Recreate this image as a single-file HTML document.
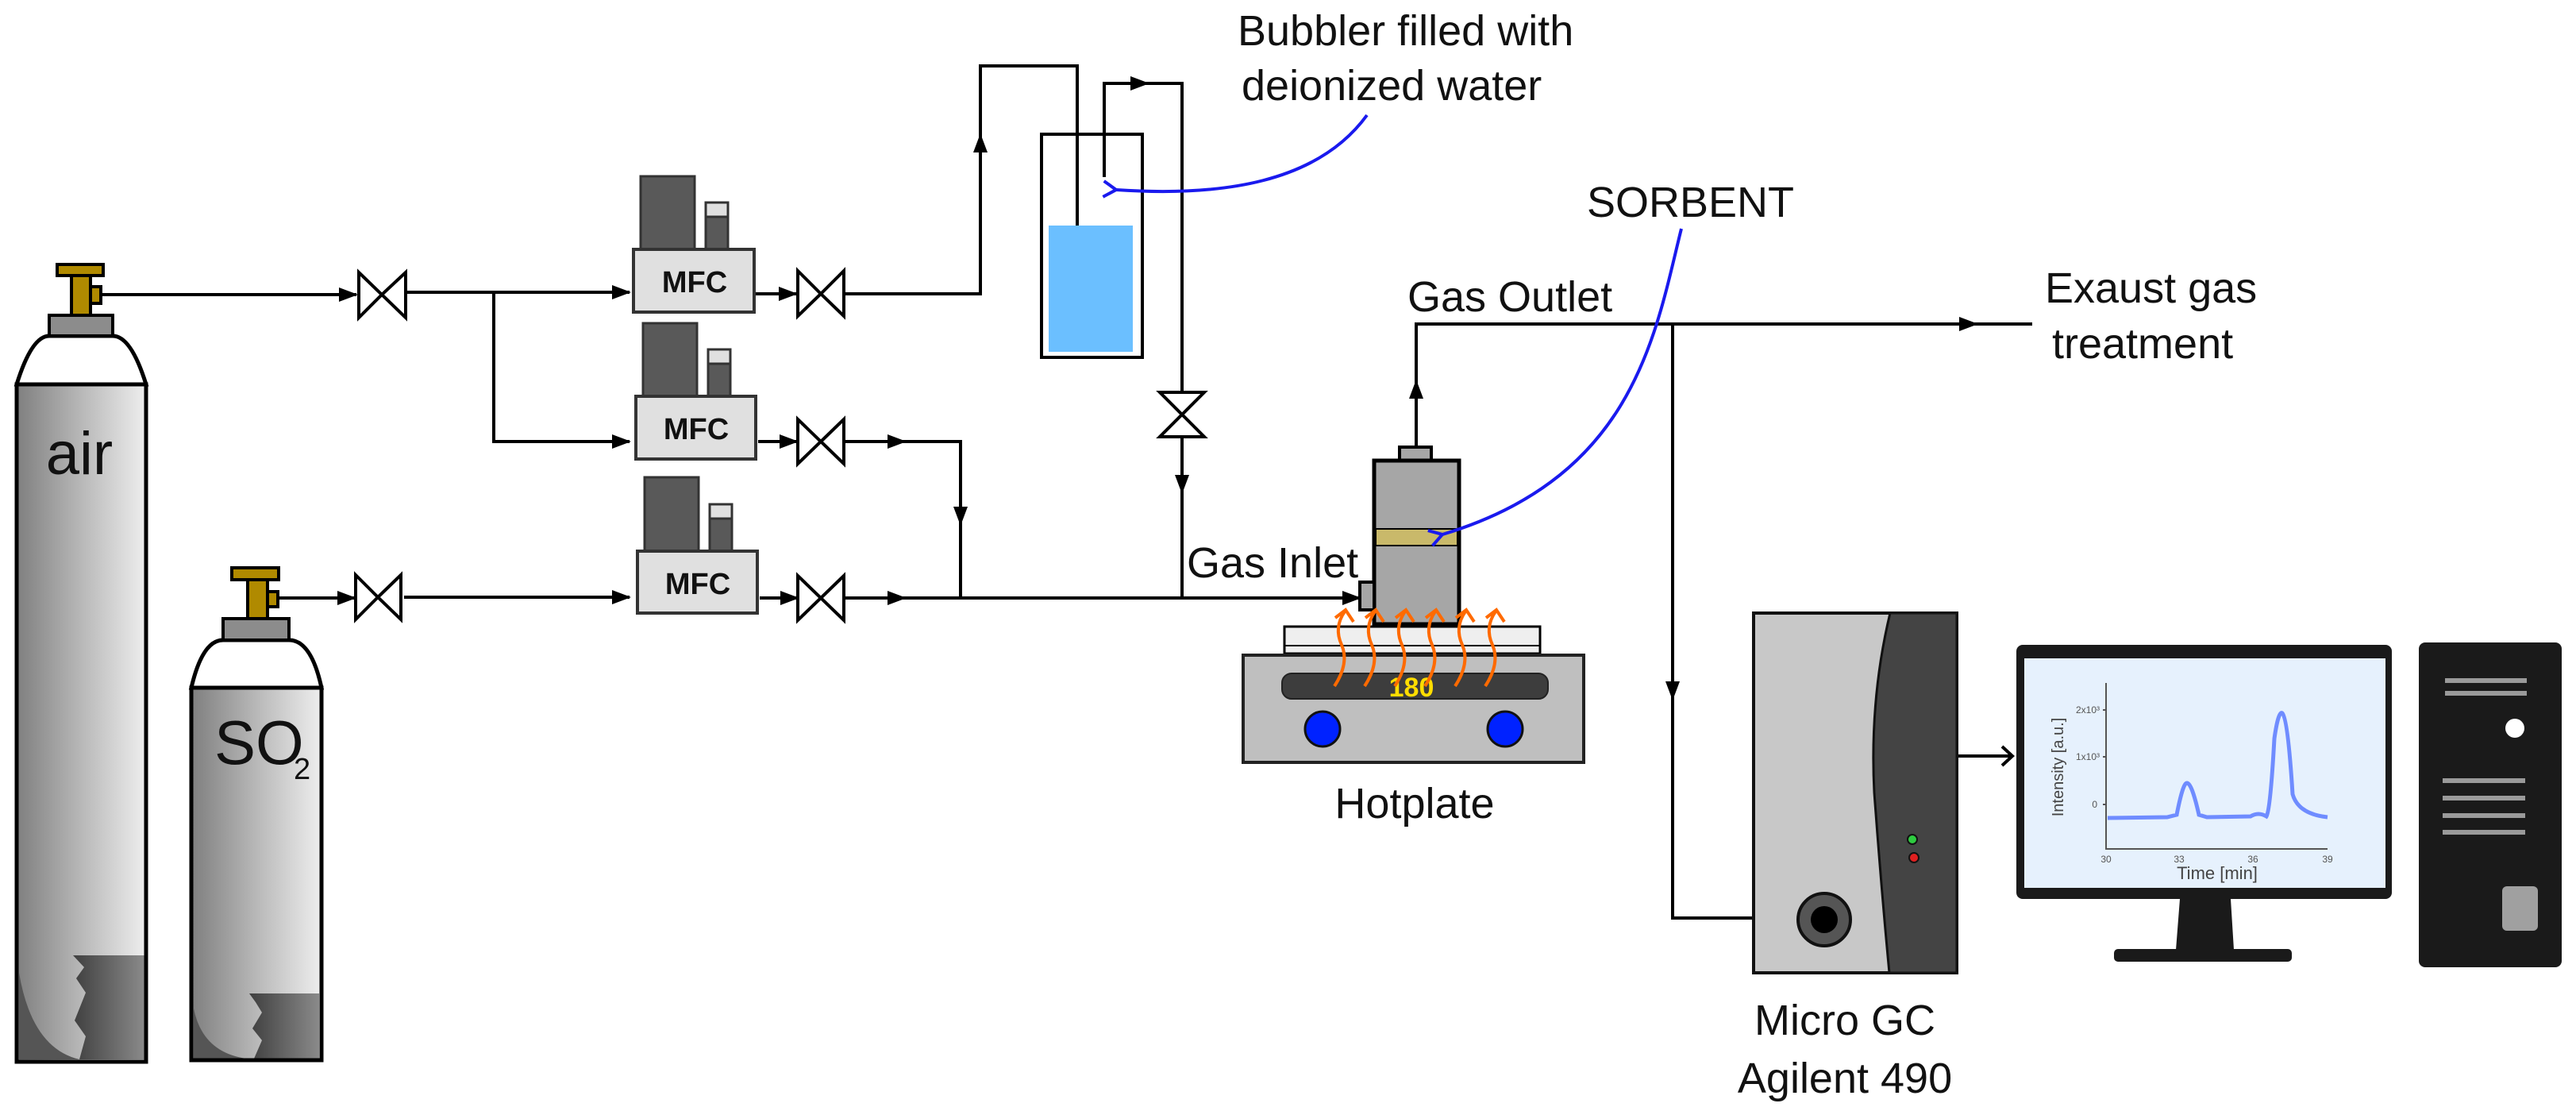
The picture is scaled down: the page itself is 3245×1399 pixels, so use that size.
<!DOCTYPE html>
<html><head><meta charset="utf-8"><style>
html,body{margin:0;padding:0;background:#fff;}
svg{display:block;}
text{font-family:"Liberation Sans",sans-serif;}
</style></head><body>
<svg width="3245" height="1399" viewBox="0 0 3245 1399" xmlns="http://www.w3.org/2000/svg">
<defs>
<linearGradient id="cyl" x1="0" x2="1" y1="0" y2="0">
<stop offset="0" stop-color="#7f7f7f"/><stop offset="0.5" stop-color="#b8b8b8"/><stop offset="1" stop-color="#eeeeee"/></linearGradient>
<linearGradient id="cylb" x1="0" x2="1" y1="0" y2="0">
<stop offset="0" stop-color="#3f3f3f"/><stop offset="1" stop-color="#8a8a8a"/></linearGradient>
<marker id="ar" markerWidth="24" markerHeight="20" refX="22" refY="10" orient="auto" markerUnits="userSpaceOnUse">
<path d="M0,1 L24,10 L0,19 Z" fill="#000"/></marker>
<marker id="bl" markerWidth="24" markerHeight="24" refX="4" refY="12" orient="auto-start-reverse" markerUnits="userSpaceOnUse">
<path d="M20,2 L4,12 L20,22" fill="none" stroke="#1a1aee" stroke-width="4"/></marker>
</defs>

<!-- AIR cylinder -->
<g stroke="#000" stroke-width="5">
<path d="M21,484 Q40,423 62,423 L142,423 Q165,423 184,484 Z" fill="#fff"/>
<rect x="21" y="484" width="163" height="853" fill="url(#cyl)"/>
</g>
<path d="M24,1225 Q40,1320 100,1334 L24,1334 Z" fill="#555"/>
<path d="M92,1203 L182,1203 L182,1334 L100,1334 L108,1305 L94,1285 L108,1250 L96,1232 L106,1218 Z" fill="url(#cylb)"/>
<rect x="21" y="484" width="163" height="853" fill="none" stroke="#000" stroke-width="5"/>
<rect x="62" y="397" width="80" height="26" fill="#8c8c8c" stroke="#000" stroke-width="4"/>
<rect x="90" y="347" width="24" height="50" fill="#b08a00" stroke="#000" stroke-width="4"/>
<rect x="72" y="333" width="58" height="14" fill="#b08a00" stroke="#000" stroke-width="4"/>
<rect x="114" y="361" width="13" height="21" fill="#b08a00" stroke="#000" stroke-width="4"/>
<text x="100" y="597" font-size="76" text-anchor="middle" fill="#111">air</text>

<!-- SO2 cylinder -->
<g stroke="#000" stroke-width="5">
<path d="M241,866 Q255,806 281,806 L364,806 Q392,806 405,866 Z" fill="#fff"/>
<rect x="241" y="866" width="164" height="469" fill="url(#cyl)"/>
</g>
<path d="M244,1270 Q255,1325 310,1333 L244,1333 Z" fill="#555"/>
<path d="M314,1251 L402,1251 L402,1333 L320,1333 L330,1310 L318,1295 L330,1275 L322,1262 Z" fill="url(#cylb)"/>
<rect x="241" y="866" width="164" height="469" fill="none" stroke="#000" stroke-width="5"/>
<rect x="281" y="779" width="83" height="27" fill="#8c8c8c" stroke="#000" stroke-width="4"/>
<rect x="312" y="730" width="25" height="49" fill="#b08a00" stroke="#000" stroke-width="4"/>
<rect x="292" y="715" width="59" height="15" fill="#b08a00" stroke="#000" stroke-width="4"/>
<rect x="337" y="745" width="13" height="19" fill="#b08a00" stroke="#000" stroke-width="4"/>
<text x="270" y="962" font-size="78" fill="#111">SO</text>
<text x="370" y="981" font-size="38" fill="#111">2</text>

<!-- lines -->
<g stroke="#000" stroke-width="4" fill="none">
<line x1="128" y1="371" x2="449" y2="371" marker-end="url(#ar)"/>
<line x1="511" y1="368" x2="793" y2="368" marker-end="url(#ar)"/>
<polyline points="622,368 622,556 793,556" marker-end="url(#ar)"/>
<line x1="351" y1="753" x2="447" y2="753" marker-end="url(#ar)"/>
<line x1="509" y1="752" x2="793" y2="752" marker-end="url(#ar)"/>
<line x1="952" y1="370" x2="1003" y2="370" marker-end="url(#ar)"/>
<line x1="955" y1="556" x2="1004" y2="556" marker-end="url(#ar)"/>
<line x1="957" y1="753" x2="1005" y2="753" marker-end="url(#ar)"/>
<polyline points="1063,370 1235,370 1235,83 1357,83 1357,393"/>
<line x1="1235" y1="200" x2="1235" y2="170" marker-end="url(#ar)"/>
<polyline points="1391,223 1391,105 1489,105 1489,753"/>
<line x1="1420" y1="105" x2="1446" y2="105" marker-end="url(#ar)"/>
<line x1="1489" y1="590" x2="1489" y2="620" marker-end="url(#ar)"/>
<polyline points="1065,556 1210,556 1210,753"/>
<line x1="1100" y1="556" x2="1140" y2="556" marker-end="url(#ar)"/>
<line x1="1210" y1="630" x2="1210" y2="660" marker-end="url(#ar)"/>
<line x1="1063" y1="753" x2="1713" y2="753" marker-end="url(#ar)"/>
<line x1="1100" y1="753" x2="1140" y2="753" marker-end="url(#ar)"/>
<polyline points="1784,563 1784,408 2560,408"/>
<line x1="1784" y1="520" x2="1784" y2="480" marker-end="url(#ar)"/>
<line x1="2400" y1="408" x2="2490" y2="408" marker-end="url(#ar)"/>
<polyline points="2107,408 2107,1156 2265,1156"/>
<line x1="2107" y1="840" x2="2107" y2="880" marker-end="url(#ar)"/>
<line x1="2465" y1="952" x2="2534" y2="952"/>
<polyline points="2522,940 2535,952 2522,964" stroke-width="4"/>
</g>

<!-- valves -->
<g fill="#fff" stroke="#000" stroke-width="4">
<path d="M452,343 L481,371 L452,400 Z M511,343 L481,371 L511,400 Z"/>
<path d="M1005,341 L1034,370 L1005,398 Z M1063,341 L1034,370 L1063,398 Z"/>
<path d="M1005,528 L1034,556 L1005,584 Z M1063,528 L1034,556 L1063,584 Z"/>
<path d="M1005,725 L1034,753 L1005,781 Z M1063,725 L1034,753 L1063,781 Z"/>
<path d="M448,724 L476,752 L448,780 Z M505,724 L476,752 L505,780 Z"/>
<path d="M1461,494 L1517,494 L1489,522 Z M1461,550 L1517,550 L1489,522 Z"/>
</g>

<!-- MFCs -->
<g stroke="#333" stroke-width="3">
<rect x="807" y="222" width="68" height="92" fill="#595959"/>
<rect x="889" y="255" width="28" height="59" fill="#595959"/>
<rect x="889" y="255" width="28" height="18" fill="#e0e0e0"/>
<rect x="798" y="314" width="152" height="79" fill="#e0e0e0" stroke-width="4"/>
<rect x="810" y="407" width="68" height="92" fill="#595959"/>
<rect x="892" y="440" width="28" height="59" fill="#595959"/>
<rect x="892" y="440" width="28" height="18" fill="#e0e0e0"/>
<rect x="801" y="499" width="151" height="79" fill="#e0e0e0" stroke-width="4"/>
<rect x="812" y="601" width="68" height="93" fill="#595959"/>
<rect x="894" y="635" width="28" height="59" fill="#595959"/>
<rect x="894" y="635" width="28" height="18" fill="#e0e0e0"/>
<rect x="803" y="694" width="151" height="78" fill="#e0e0e0" stroke-width="4"/>
</g>
<g font-size="38" font-weight="bold" text-anchor="middle" fill="#111">
<text x="875" y="368">MFC</text><text x="877" y="553">MFC</text><text x="879" y="748">MFC</text>
</g>

<!-- bubbler -->
<rect x="1321" y="284" width="106" height="159" fill="#6bbfff"/>
<rect x="1312" y="169" width="127" height="281" fill="none" stroke="#000" stroke-width="4"/>

<!-- reactor -->
<rect x="1763" y="563" width="40" height="17" fill="#a6a6a6" stroke="#000" stroke-width="4"/>
<rect x="1731" y="580" width="107" height="206" fill="#a6a6a6" stroke="#000" stroke-width="5"/>
<rect x="1733" y="666" width="103" height="21" fill="#c9b96a" stroke="#000" stroke-width="2"/>
<rect x="1713" y="733" width="18" height="35" fill="#a6a6a6" stroke="#000" stroke-width="4"/>

<!-- hotplate -->
<rect x="1618" y="789" width="322" height="34" fill="#efefef" stroke="#000" stroke-width="3"/>
<line x1="1618" y1="813" x2="1940" y2="813" stroke="#000" stroke-width="2"/>
<rect x="1566" y="825" width="429" height="135" fill="#bfbfbf" stroke="#222" stroke-width="4"/>
<rect x="1615" y="848" width="335" height="32" rx="12" fill="#3d3d3d" stroke="#222" stroke-width="2"/>
<text x="1778" y="877" font-size="34" font-weight="bold" text-anchor="middle" fill="#ffdd00" font-family="Liberation Serif,serif">180</text>
<circle cx="1666" cy="918" r="22" fill="#0022ff" stroke="#111" stroke-width="3"/>
<circle cx="1896" cy="918" r="22" fill="#0022ff" stroke="#111" stroke-width="3"/>
<g stroke="#ff6a00" stroke-width="4" fill="none">
<path d="M1681,864 Q1700,835 1690,812 Q1680,790 1694,770 M1682,778 L1695,768 L1705,783"/>
<path d="M1719,864 Q1738,835 1728,812 Q1718,790 1732,770 M1720,778 L1733,768 L1743,783"/>
<path d="M1757,864 Q1776,835 1766,812 Q1756,790 1770,770 M1758,778 L1771,768 L1781,783"/>
<path d="M1795,864 Q1814,835 1804,812 Q1794,790 1808,770 M1796,778 L1809,768 L1819,783"/>
<path d="M1833,864 Q1852,835 1842,812 Q1832,790 1846,770 M1834,778 L1847,768 L1857,783"/>
<path d="M1871,864 Q1890,835 1880,812 Q1870,790 1884,770 M1872,778 L1885,768 L1895,783"/>
</g>

<!-- blue annotation curves -->
<path d="M1722,145 C1660,230 1540,248 1406,239" fill="none" stroke="#1a1aee" stroke-width="4" marker-end="url(#bl)"/>
<path d="M2118,288 C2085,420 2060,600 1817,673" fill="none" stroke="#1a1aee" stroke-width="4" marker-end="url(#bl)"/>

<!-- Micro GC -->
<rect x="2209" y="772" width="256" height="453" fill="#c8c8c8" stroke="#111" stroke-width="4"/>
<path d="M2381,772 Q2355,880 2361,998 Q2370,1120 2380,1225 L2465,1225 L2465,772 Z" fill="#444" stroke="#111" stroke-width="3"/>
<circle cx="2298" cy="1158" r="33" fill="#555" stroke="#111" stroke-width="4"/>
<circle cx="2298" cy="1158" r="17" fill="#000"/>
<circle cx="2409" cy="1057" r="6" fill="#2ecc40" stroke="#111" stroke-width="2"/>
<circle cx="2411" cy="1080" r="6" fill="#e02020" stroke="#111" stroke-width="2"/>

<!-- Monitor -->
<rect x="2540" y="812" width="473" height="320" rx="8" fill="#1a1a1a"/>
<rect x="2550" y="829" width="455" height="289" fill="#e6f1fd"/>
<path d="M2746,1132 L2810,1132 L2814,1196 L2741,1196 Z" fill="#1a1a1a"/>
<rect x="2663" y="1195" width="224" height="16" rx="5" fill="#1a1a1a"/>
<g stroke="#555" stroke-width="2" fill="none">
<polyline points="2653,860 2653,1069 2932,1069"/>
<line x1="2649" y1="1013" x2="2653" y2="1013"/><line x1="2649" y1="953" x2="2653" y2="953"/><line x1="2649" y1="894" x2="2653" y2="894"/>
</g>
<path d="M2655,1030 L2730,1029 L2742,1026 Q2750,985 2755,986 Q2761,986 2770,1026 L2780,1029 L2835,1028 Q2845,1022 2855,1028 Q2860,1020 2865,930 Q2870,895 2875,898 Q2882,905 2888,1000 Q2895,1025 2932,1029" fill="none" stroke="#6f8cff" stroke-width="5"/>
<g font-size="12" fill="#555" text-anchor="middle">
<text x="2653" y="1086">30</text><text x="2745" y="1086">33</text><text x="2838" y="1086">36</text><text x="2932" y="1086">39</text>
<text x="2642" y="1017" text-anchor="end">0</text><text x="2645" y="957" text-anchor="end">1x10³</text><text x="2645" y="898" text-anchor="end">2x10³</text>
</g>
<text x="2793" y="1107" font-size="22" fill="#444" text-anchor="middle">Time [min]</text>
<text transform="translate(2599,966) rotate(-90)" font-size="20" fill="#444" text-anchor="middle">Intensity [a.u.]</text>

<!-- Tower -->
<rect x="3047" y="809" width="180" height="409" rx="8" fill="#1a1a1a"/>
<g stroke="#9a9a9a" stroke-width="6">
<line x1="3080" y1="857" x2="3183" y2="857"/><line x1="3080" y1="873" x2="3183" y2="873"/>
<line x1="3077" y1="983" x2="3181" y2="983"/><line x1="3077" y1="1005" x2="3181" y2="1005"/>
<line x1="3077" y1="1027" x2="3181" y2="1027"/><line x1="3077" y1="1048" x2="3181" y2="1048"/>
</g>
<circle cx="3168" cy="917" r="12" fill="#fff"/>
<rect x="3152" y="1116" width="45" height="56" rx="6" fill="#a0a0a0"/>

<!-- labels -->
<g font-size="54" fill="#111">
<text x="1559" y="57">Bubbler filled with</text>
<text x="1564" y="126">deionized water</text>
<text x="1999" y="273">SORBENT</text>
<text x="1773" y="392">Gas Outlet</text>
<text x="1495" y="727">Gas Inlet</text>
<text x="2576" y="381">Exaust gas</text>
<text x="2585" y="451">treatment</text>
<text x="1782" y="1030" text-anchor="middle">Hotplate</text>
<text x="2324" y="1303" text-anchor="middle">Micro GC</text>
<text x="2324" y="1376" text-anchor="middle">Agilent 490</text>
</g>
</svg>
</body></html>
